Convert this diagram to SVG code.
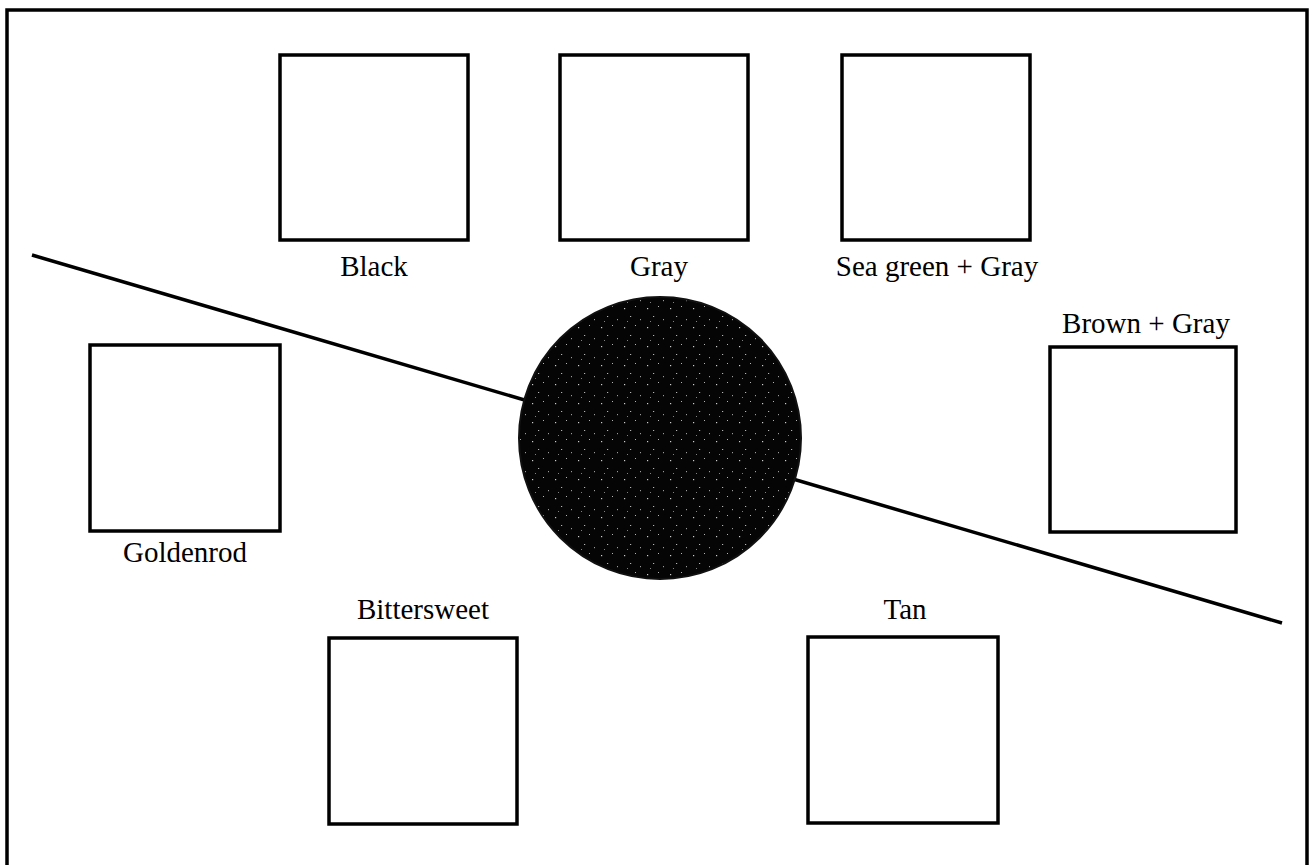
<svg xmlns="http://www.w3.org/2000/svg" width="1315" height="865" viewBox="0 0 1315 865">
<style>
.box{fill:#fff;stroke:#000;stroke-width:3.5}
.lbl{font-family:"Liberation Serif","Times New Roman",serif;font-size:29px;fill:#000;text-anchor:middle}
.frame{fill:none;stroke:#000;stroke-width:3.5}
.conn{stroke:#000;stroke-width:3.5;fill:none}
</style>
<defs>
<pattern id="speck" width="23" height="19" patternUnits="userSpaceOnUse">
<rect width="23" height="19" fill="#050505"/>
<rect x="3" y="4" width="1.2" height="1.2" fill="#fff" opacity="0.8"/>
<rect x="14" y="2" width="1" height="1" fill="#fff" opacity="0.7"/>
<rect x="9" y="12" width="1.2" height="1" fill="#fff" opacity="0.7"/>
<rect x="19" y="15" width="1" height="1.2" fill="#fff" opacity="0.6"/>
<rect x="6" y="17" width="1" height="1" fill="#fff" opacity="0.5"/>
</pattern>
</defs>
<rect width="1315" height="865" fill="#fff"/>
<path class="frame" d="M7,865 V10 H1307 V865"/>
<g id="connectors">
<line class="conn" x1="32" y1="255" x2="1282" y2="623"/>
</g>
<g id="center">
<circle cx="660" cy="438" r="141" fill="url(#speck)" stroke="#111" stroke-width="2"/>
</g>
<g id="black"><rect class="box" x="280" y="55" width="188" height="185"/><text class="lbl" x="374" y="276">Black</text></g>
<g id="gray"><rect class="box" x="560" y="55" width="188" height="185"/><text class="lbl" x="659" y="276">Gray</text></g>
<g id="seagreen"><rect class="box" x="842" y="55" width="188" height="185"/><text class="lbl" x="937" y="276">Sea green + Gray</text></g>
<g id="browngray"><rect class="box" x="1050" y="347" width="186" height="185"/><text class="lbl" x="1146" y="333">Brown + Gray</text></g>
<g id="goldenrod"><rect class="box" x="90" y="345" width="190" height="186"/><text class="lbl" x="185" y="562">Goldenrod</text></g>
<g id="bittersweet"><rect class="box" x="329" y="638" width="188" height="186"/><text class="lbl" x="423" y="619">Bittersweet</text></g>
<g id="tan"><rect class="box" x="808" y="637" width="190" height="186"/><text class="lbl" x="905" y="619">Tan</text></g>
</svg>
